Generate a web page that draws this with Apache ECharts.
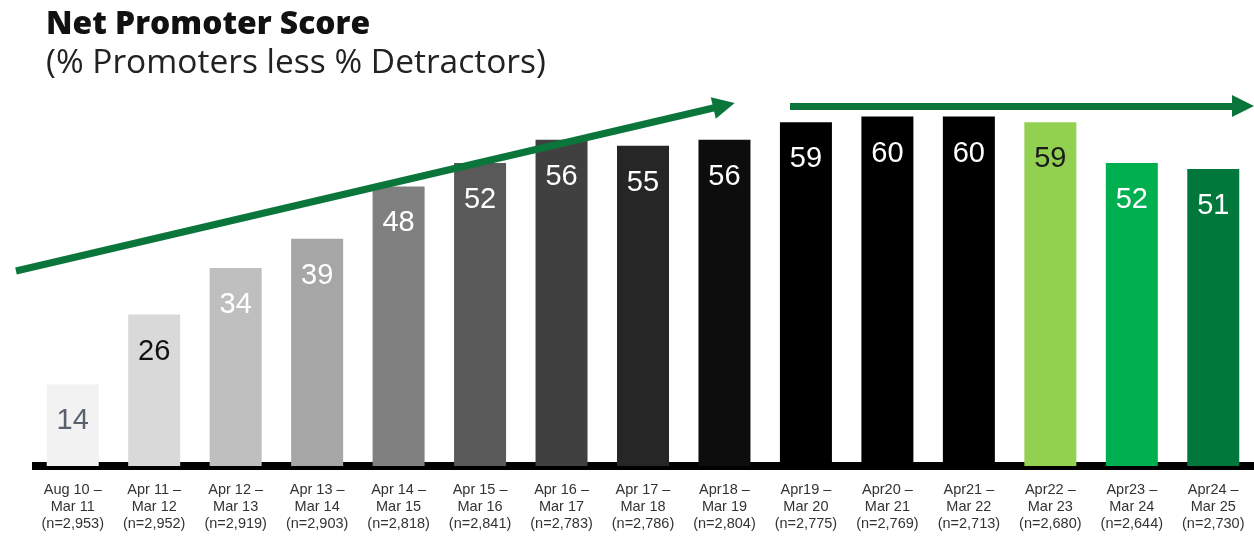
<!DOCTYPE html>
<html>
<head>
<meta charset="utf-8">
<script src="https://cdn.jsdelivr.net/npm/echarts@6/dist/echarts.min.js"></script>
<style>html,body{margin:0;padding:0;background:#fff}#chart{width:1254px;height:537px}</style>
</head>
<body>
<div id="chart"></div>
<script>
const categories = ['Aug 10 –\nMar 11','Apr 11 –\nMar 12','Apr 12 –\nMar 13','Apr 13 –\nMar 14','Apr 14 –\nMar 15','Apr 15 –\nMar 16','Apr 16 –\nMar 17','Apr 17 –\nMar 18','Apr18 –\nMar 19','Apr19 –\nMar 20','Apr20 –\nMar 21','Apr21 –\nMar 22','Apr22 –\nMar 23','Apr23 –\nMar 24','Apr24 –\nMar 25'];
const sampleSizes = ['2,953','2,952','2,919','2,903','2,818','2,841','2,783','2,786','2,804','2,775','2,769','2,713','2,680','2,644','2,730'];
const npsValues = [14,26,34,39,48,52,56,55,56,59,60,60,59,52,51];

const barColors = ['#f2f2f2','#d9d9d9','#bfbfbf','#a6a6a6','#808080','#595959','#404040','#262626','#0d0d0d','#000000','#000000','#000000','#92d050','#00b050','#00783c'];
const labelColors = ['#5a6070','#111111','#ffffff','#ffffff','#ffffff','#ffffff','#ffffff','#ffffff','#ffffff','#ffffff','#ffffff','#ffffff','#1a1a1a','#ffffff','#ffffff'];
const arrowColor = '#0b763b';

const chart = echarts.init(document.getElementById('chart'), null, {renderer: 'canvas'});
chart.setOption({
  animation: false,
  backgroundColor: '#ffffff',
  title: [
    {text: 'Net Promoter Score', left: 41, top: 4,
     textStyle: {fontFamily: 'Open Sans', fontWeight: 800, fontSize: 31.8, color: '#111111'}},
    {text: '(% Promoters less % Detractors)', left: 41, top: 41,
     textStyle: {fontFamily: 'Open Sans', fontWeight: 'normal', fontSize: 33.5, color: '#222222'}}
  ],
  grid: {left: 32, right: -5, top: 0, bottom: 71, containLabel: false},
  xAxis: {
    type: 'category',
    data: categories.map((c, i) => c + '\n(n=' + sampleSizes[i] + ')'),
    offset: 4,
    axisLine: {show: true, lineStyle: {color: '#000000', width: 8, cap: 'butt'}},
    axisTick: {show: false},
    axisLabel: {interval: 0, margin: 12, fontSize: 14.5, lineHeight: 16.7, color: '#333333', fontFamily: 'Liberation Sans'}
  },
  yAxis: {type: 'value', min: 0, max: 80, show: false, splitLine: {show: false}},
  series: [{
    type: 'bar',
    barWidth: 52,
    data: npsValues.map((v, i) => ({
      value: v,
      itemStyle: {color: barColors[i]},
      label: {color: labelColors[i]}
    })),
    label: {show: true, position: 'insideTop', distance: 22, fontSize: 29, lineHeight: 30, fontFamily: 'Liberation Sans'},
    markLine: {
      silent: true,
      symbol: ['none', 'triangle'],
      symbolSize: [22, 22],
      label: {show: false},
      lineStyle: {color: arrowColor, width: 7, type: 'solid', cap: 'butt'},
      data: [
        [{x: 16, y: 271}, {x: 724, y: 105.5}],
        [{x: 790, y: 106}, {x: 1243, y: 106}]
      ]
    }
  }]
});
</script>
</body>
</html>
